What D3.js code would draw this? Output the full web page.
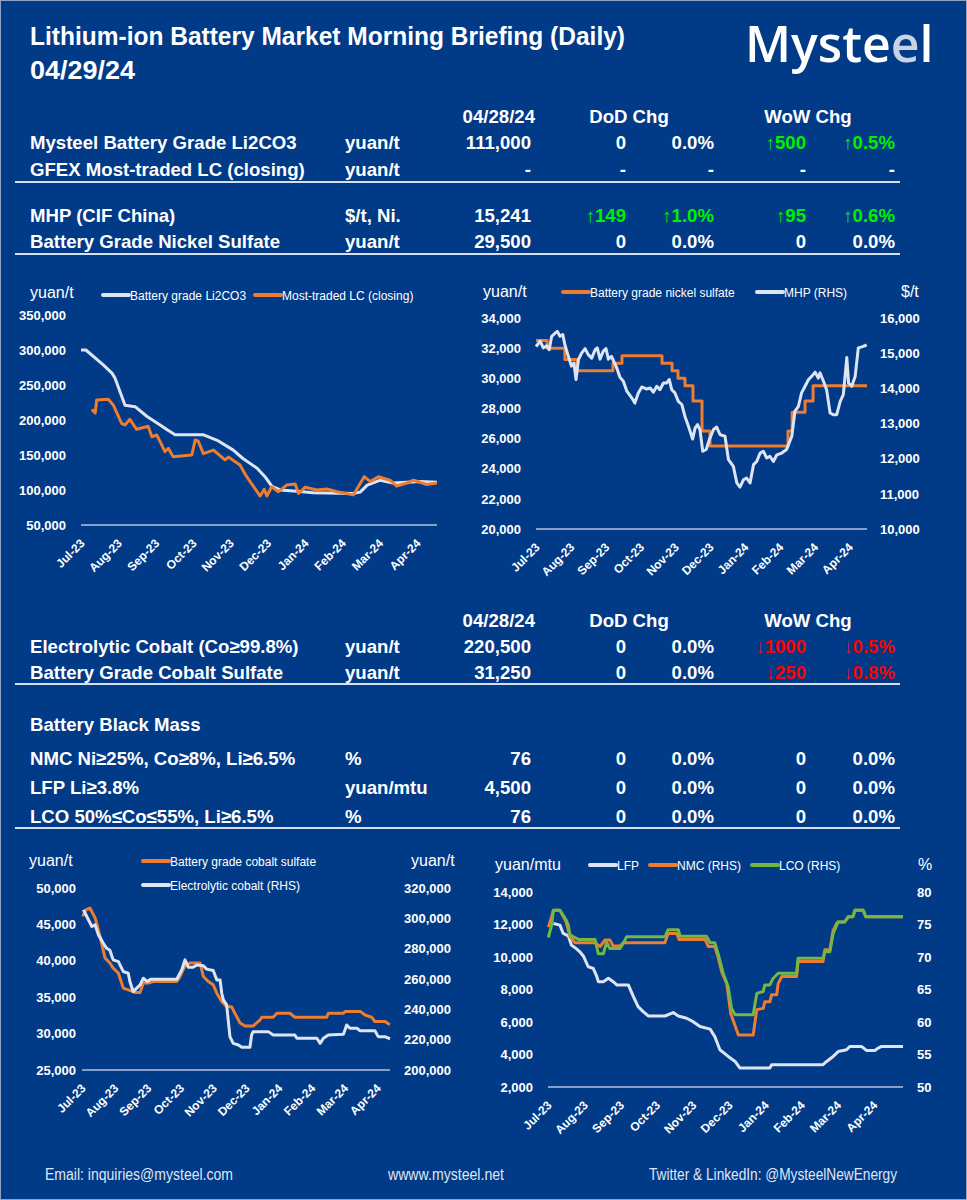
<!DOCTYPE html>
<html><head><meta charset="utf-8">
<script src="https://cdn.jsdelivr.net/npm/d3@7"></script>
<style>
html,body{margin:0;padding:0;background:#013a86;}
svg{display:block;}
</style></head>
<body>
<script>
// ---------------- DATA ----------------
const titleText = "Lithium-ion Battery Market Morning Briefing (Daily)";
const reportDate = "04/29/24";
const priceDate = "04/28/24";
const logoParts = ["Myste", "e", "l"];
const tableHeads = [priceDate, "DoD Chg", "WoW Chg"];
const lithiumRows = [
  ["Mysteel Battery Grade Li2CO3", "yuan/t", "111,000", "0", "0.0%", "↑500", "↑0.5%"],
  ["GFEX Most-traded LC (closing)", "yuan/t", "-", "-", "-", "-", "-"]
];
const nickelRows = [
  ["MHP (CIF China)", "$/t, Ni.", "15,241", "↑149", "↑1.0%", "↑95", "↑0.6%"],
  ["Battery Grade Nickel Sulfate", "yuan/t", "29,500", "0", "0.0%", "0", "0.0%"]
];
const cobaltRows = [
  ["Electrolytic Cobalt (Co≥99.8%)", "yuan/t", "220,500", "0", "0.0%", "↓1000", "↓0.5%"],
  ["Battery Grade Cobalt Sulfate", "yuan/t", "31,250", "0", "0.0%", "↓250", "↓0.8%"]
];
const blackMassTitle = "Battery Black Mass";
const blackMassRows = [
  ["NMC Ni≥25%, Co≥8%, Li≥6.5%", "%", "76", "0", "0.0%", "0", "0.0%"],
  ["LFP Li≥3.8%", "yuan/mtu", "4,500", "0", "0.0%", "0", "0.0%"],
  ["LCO 50%≤Co≤55%, Li≥6.5%", "%", "76", "0", "0.0%", "0", "0.0%"]
];
const footerTexts = ["Email: inquiries@mysteel.com", "wwww.mysteel.net", "Twitter & LinkedIn: @MysteelNewEnergy"];

const monthLabels = ["Jul-23","Aug-23","Sep-23","Oct-23","Nov-23","Dec-23","Jan-24","Feb-24","Mar-24","Apr-24"];

// x = months since Jul-23 on the category axis
const li2co3Spot = [[0,300000],[0.13,300000],[0.59,279000],[0.83,267000],[0.91,260000],[1.18,221000],[1.45,219000],[1.77,205000],[2.12,193000],[2.31,186000],[2.52,179000],[3.27,179000],[3.65,171000],[4.08,157000],[4.34,145000],[4.72,131000],[4.93,119000],[5.12,105000],[5.34,100000],[5.87,98000],[6.22,96000],[7.29,95000],[7.48,97000],[7.67,107000],[8.02,114000],[8.36,110000],[9.09,112000],[9.54,111000]];
const lcFutures = [[0.29,215000],[0.38,210000],[0.42,228600],[0.73,229500],[0.87,221000],[1.09,195000],[1.18,193000],[1.31,201000],[1.49,186700],[1.80,191000],[1.90,176000],[2.03,178600],[2.12,169000],[2.25,154700],[2.34,159600],[2.47,147600],[2.97,150000],[3.06,171400],[3.14,170000],[3.28,152000],[3.55,157000],[3.86,143000],[3.95,147000],[4.26,135700],[4.44,119000],[4.80,91400],[4.91,101000],[4.98,91400],[5.11,104700],[5.29,97600],[5.51,107000],[5.74,108600],[5.83,95000],[6.01,104000],[6.32,100000],[6.59,101400],[6.86,97600],[7.30,93000],[7.43,104700],[7.59,119000],[7.75,112000],[7.97,119000],[8.28,114000],[8.46,105700],[8.73,110000],[8.91,114000],[9.09,111000],[9.25,108000],[9.54,110000]];

const nickelSulfate = [[0,32500],[0.32,32000],[0.83,31250],[1.18,30500],[2.21,31000],[2.47,31500],[3.62,31000],[3.91,30500],[4.08,30000],[4.28,29500],[4.51,28500],[4.77,26500],[5.0,25500],[7.24,26500],[7.36,27750],[7.73,28500],[7.96,29500],[9.51,29500]];
const mhpCif = [[0,15190],[0.12,15340],[0.21,15150],[0.31,15210],[0.38,15100],[0.45,15480],[0.55,15570],[0.61,15620],[0.69,15480],[0.77,15530],[0.83,15240],[0.93,14910],[1.02,14630],[1.09,14720],[1.15,14250],[1.22,14820],[1.31,15000],[1.41,15130],[1.50,14960],[1.60,14860],[1.70,15100],[1.76,15150],[1.84,14830],[1.93,15050],[2.01,15130],[2.08,14830],[2.17,14910],[2.32,14580],[2.41,14320],[2.51,14200],[2.61,13920],[2.75,13730],[2.84,13580],[2.94,13870],[3.04,14040],[3.18,13980],[3.28,14010],[3.37,13890],[3.47,14060],[3.56,13960],[3.66,14150],[3.75,14150],[3.83,14250],[3.90,13960],[3.99,13870],[4.09,13630],[4.19,13540],[4.28,13200],[4.38,12920],[4.50,12560],[4.57,12870],[4.64,12970],[4.71,12830],[4.79,12210],[4.89,12260],[4.98,12540],[5.10,12830],[5.19,12900],[5.29,12680],[5.43,12640],[5.53,11970],[5.67,11780],[5.77,11310],[5.86,11190],[5.96,11400],[6.05,11450],[6.15,11310],[6.25,11830],[6.34,11920],[6.44,12160],[6.53,12210],[6.63,12020],[6.72,12070],[6.82,11920],[6.92,12110],[7.06,12160],[7.20,12260],[7.35,12640],[7.44,13350],[7.54,13490],[7.63,13870],[7.73,14060],[7.83,14250],[7.92,14340],[8.02,14460],[8.11,14290],[8.16,14440],[8.26,14200],[8.35,13960],[8.45,13300],[8.54,13250],[8.64,13250],[8.74,13630],[8.83,13820],[8.93,14880],[8.98,14150],[9.07,14060],[9.17,14340],[9.26,15150],[9.36,15180],[9.45,15210],[9.50,15241]];

const cobaltSulfate = [[0.02,46100],[0.12,47000],[0.24,47250],[0.40,45900],[0.55,43350],[0.70,40400],[0.85,39700],[0.95,39000],[1.11,38300],[1.26,36250],[1.41,36000],[1.62,35650],[1.77,35650],[1.87,36950],[2.02,36950],[2.17,37150],[2.89,37150],[2.99,37850],[3.14,39300],[3.29,39700],[3.60,39700],[3.70,37850],[3.85,37150],[4.00,36700],[4.11,35550],[4.26,34400],[4.41,33700],[4.56,33700],[4.66,32800],[4.82,31450],[4.97,31050],[5.22,31050],[5.43,31900],[5.48,32250],[5.83,32250],[5.94,32800],[6.34,32800],[6.49,32250],[7.46,32250],[7.51,32800],[7.97,32800],[8.02,33050],[8.48,33050],[8.63,32550],[8.83,32250],[8.93,31650],[9.24,31650],[9.34,31350],[9.39,31250]];
const electrolyticCobalt = [[0.04,305600],[0.08,304000],[0.30,294600],[0.40,295700],[0.50,289100],[0.65,283600],[0.75,280300],[0.85,279000],[0.95,272600],[1.11,271500],[1.26,264900],[1.41,263800],[1.46,258300],[1.56,251700],[1.77,256100],[1.87,260500],[1.99,258300],[2.09,259800],[2.89,259800],[3.04,266000],[3.14,272600],[3.24,267800],[3.39,267800],[3.50,269300],[3.70,268800],[3.80,266500],[4.00,265600],[4.11,259400],[4.21,259400],[4.26,250600],[4.31,246200],[4.41,242900],[4.51,222000],[4.61,217600],[4.77,216500],[4.87,215000],[5.12,215000],[5.17,223100],[5.22,225300],[5.68,225300],[5.83,223100],[6.49,223100],[6.55,220900],[7.16,220900],[7.26,217600],[7.36,220900],[7.51,223100],[7.97,223500],[8.07,229700],[8.17,227500],[8.38,227500],[8.48,225900],[8.93,225900],[9.03,222000],[9.24,222000],[9.39,220500]];

const lfpBlackMass = [[0.15,12060],[0.33,11960],[0.42,11450],[0.56,11300],[0.65,10730],[0.79,10500],[0.88,10320],[0.98,10050],[1.11,9400],[1.25,9300],[1.35,8790],[1.39,8480],[1.53,8480],[1.67,8690],[1.80,8480],[1.90,8280],[2.22,8280],[2.36,7560],[2.49,6950],[2.63,6640],[2.77,6370],[3.23,6370],[3.46,6580],[3.60,6370],[3.83,6230],[4.01,6020],[4.20,5720],[4.48,5560],[4.61,5100],[4.75,4290],[4.98,3880],[5.17,3570],[5.30,3170],[6.13,3170],[6.18,3370],[7.60,3370],[7.70,3570],[7.88,3880],[8.02,4180],[8.25,4290],[8.34,4490],[8.67,4490],[8.80,4250],[9.03,4250],[9.12,4390],[9.22,4500],[9.81,4500]];
const nmcBlackMass = [[0.01,74.6],[0.10,76.2],[0.15,77.2],[0.33,77.2],[0.50,75.4],[0.61,73.1],[0.75,72.2],[1.30,72.2],[1.44,71.6],[1.57,72.6],[1.71,72.6],[1.80,71.7],[1.99,71.7],[2.08,72.2],[3.23,72.2],[3.32,73.6],[3.56,73.6],[3.62,72.7],[4.34,72.7],[4.43,71.6],[4.61,71.6],[4.70,70.0],[4.80,67.7],[4.94,65.9],[5.05,61.3],[5.26,58.0],[5.67,58.0],[5.77,61.9],[5.95,62.1],[5.99,63.1],[6.13,63.1],[6.18,64.2],[6.32,64.2],[6.36,65.9],[6.46,67.0],[6.87,67.0],[6.91,69.3],[7.60,69.3],[7.65,71.1],[7.79,71.1],[7.88,74.1],[7.98,75.2],[8.02,75.4],[8.20,75.4],[8.30,76.2],[8.43,76.2],[8.48,77.2],[8.71,77.2],[8.78,76.2],[9.81,76.2]];
const lcoBlackMass = [[0.01,73.0],[0.10,74.9],[0.15,77.2],[0.33,77.2],[0.42,76.4],[0.50,75.7],[0.56,74.9],[0.61,73.4],[0.70,73.1],[0.84,72.7],[1.30,72.7],[1.39,70.5],[1.53,70.5],[1.62,72.3],[1.71,71.3],[1.99,71.3],[2.08,72.1],[2.17,73.1],[3.23,73.1],[3.32,74.2],[3.60,74.2],[3.65,73.2],[4.38,73.2],[4.48,72.2],[4.61,72.2],[4.70,70.5],[4.84,67.5],[4.98,65.4],[5.07,62.1],[5.17,61.1],[5.67,61.1],[5.77,64.4],[5.95,64.7],[5.99,65.7],[6.13,65.7],[6.22,66.7],[6.36,67.5],[6.87,67.5],[6.91,69.8],[7.60,69.8],[7.65,70.8],[7.79,70.8],[7.88,73.6],[7.98,74.9],[8.02,75.4],[8.20,75.4],[8.30,76.2],[8.43,76.2],[8.48,77.2],[8.71,77.2],[8.78,76.2],[9.81,76.2]];

// ---------------- DRAW ----------------
const W = 967, H = 1200;
const BG = "#013a86", WHITE_LINE = "#dde4f4", ORANGE = "#ee7d2f", GREEN = "#72b843";
const UP = "#00f000", DOWN = "#ff0000";
const F = "'Liberation Sans', Arial, sans-serif";

const svg = d3.select("body").append("svg").attr("width", W).attr("height", H);
svg.append("rect").attr("width", W).attr("height", H).attr("fill", BG);
svg.append("rect").attr("x", 0.5).attr("y", 0.5).attr("width", W - 1).attr("height", H - 1)
  .attr("fill", "none").attr("stroke", "#8ea2c8").attr("stroke-width", 1);

// Title (condensed via textLength)
svg.append("text").attr("x", 30).attr("y", 45).attr("fill", "#fff")
  .attr("textLength", 595).attr("lengthAdjust", "spacingAndGlyphs")
  .style("font-family", F).style("font-weight", "bold").style("font-size", "26px").text(titleText);
svg.append("text").attr("x", 30).attr("y", 79).attr("fill", "#fff")
  .attr("textLength", 105).attr("lengthAdjust", "spacingAndGlyphs")
  .style("font-family", F).style("font-weight", "bold").style("font-size", "26px").text(reportDate);

// Logo: separate text pieces laid side by side
let lx = 745;
logoParts.forEach((p, i) => {
  const t = svg.append("text").attr("x", lx).attr("y", 62)
    .attr("fill", i === 1 ? "#c9d3e6" : "#fff")
    .style("font-family", "'Open Sans', Lato, sans-serif").style("font-weight", "600")
    .style("font-size", "50px").text(p);
  lx += t.node().getComputedTextLength();
});

// Tables
const colRight = [531, 626, 714, 806, 895];
function cellColor(s) { return s.startsWith("↑") ? UP : (s.startsWith("↓") ? DOWN : "#fff"); }
function tableText(x, y, s, anchor, color) {
  return svg.append("text").attr("x", x).attr("y", y).attr("text-anchor", anchor || "start")
    .attr("fill", color || "#fff").style("font-family", F).style("font-weight", "bold")
    .style("font-size", "18.6px").text(s);
}
function header(y) {
  tableText(535, y, tableHeads[0], "end");
  tableText(629, y, tableHeads[1], "middle");
  tableText(808, y, tableHeads[2], "middle");
}
function rows(data, y0, step) {
  data.forEach((r, i) => {
    const y = y0 + i * step;
    tableText(30, y, r[0]);
    tableText(345, y, r[1]);
    r.slice(2).forEach((c, j) => tableText(colRight[j], y, c, "end", cellColor(c)));
  });
}
function rule(y) {
  svg.append("line").attr("x1", 15).attr("x2", 900).attr("y1", y).attr("y2", y)
    .attr("stroke", "#d7dff0").attr("stroke-width", 2);
}
header(123);
rows(lithiumRows, 149, 27);
rule(182);
rows(nickelRows, 222, 26);
rule(254);

header(627);
rows(cobaltRows, 653, 26);
rule(684);
tableText(30, 731, blackMassTitle);
rows(blackMassRows, 765, 29);
rule(828);

// Footer
const footerPos = [[45, 188], [388, 116], [649, 248]];
footerPos.forEach((p, i) => {
  svg.append("text").attr("x", p[0]).attr("y", 1180)
    .attr("textLength", p[1]).attr("lengthAdjust", "spacingAndGlyphs")
    .attr("fill", "#dfe6f5").style("font-family", F).style("font-size", "16px").text(footerTexts[i]);
});

// Chart builder
const fmt = d3.format(",");
function chart(c) {
  const g = svg.append("g");
  const x = d3.scaleLinear().domain([0, c.tEnd]).range([c.x0, c.x1]);
  const yL = d3.scaleLinear().domain(c.yL).range([c.yB, c.yT]);
  const yR = c.yR ? d3.scaleLinear().domain(c.yR).range([c.yB, c.yT]) : null;

  g.append("line").attr("x1", c.x0).attr("x2", c.x1).attr("y1", c.yB).attr("y2", c.yB)
    .attr("stroke", "#b3c2e2").attr("stroke-width", 1.3);

  const styleAxis = sel => {
    sel.select(".domain").remove();
    sel.selectAll("text").attr("fill", "#fff").style("font-family", F)
      .style("font-weight", "bold").style("font-size", "13px");
  };
  g.append("g").attr("transform", `translate(${c.x0},0)`)
    .call(d3.axisLeft(yL).tickValues(c.ticksL).tickFormat(fmt).tickSize(0).tickPadding(c.padL))
    .call(styleAxis);
  if (yR) {
    g.append("g").attr("transform", `translate(${c.x1},0)`)
      .call(d3.axisRight(yR).tickValues(c.ticksR).tickFormat(fmt).tickSize(0).tickPadding(c.padR))
      .call(styleAxis);
  }
  const xa = g.append("g").attr("transform", `translate(0,${c.yB})`)
    .call(d3.axisBottom(x).tickValues(d3.range(monthLabels.length)).tickFormat(i => monthLabels[i]).tickSize(0));
  xa.select(".domain").remove();
  xa.selectAll("text").attr("x", 0).attr("y", 0).attr("dy", 0)
    .attr("text-anchor", "end").attr("transform", "translate(4,19) rotate(-45)")
    .attr("fill", "#fff").style("font-family", F).style("font-weight", "bold").style("font-size", "12px");

  // units
  c.units.forEach(u => g.append("text").attr("x", u[0]).attr("y", u[1])
    .attr("fill", "#fff").style("font-family", F).style("font-size", "16px").text(u[2]));

  // series
  c.series.forEach(s => {
    const ys = s.axis === "R" ? yR : yL;
    const line = d3.line().x(d => x(d[0])).y(d => ys(d[1]))
      .curve(s.step ? d3.curveStepAfter : d3.curveLinear);
    g.append("path").datum(s.data).attr("d", line).attr("fill", "none")
      .attr("stroke", s.color).attr("stroke-width", 3).attr("stroke-linejoin", "round");
  });
  // legend
  c.legend.forEach(l => {
    g.append("line").attr("x1", l.x).attr("x2", l.x + 26).attr("y1", l.y).attr("y2", l.y)
      .attr("stroke", l.color).attr("stroke-width", 4).attr("stroke-linecap", "round");
    g.append("text").attr("x", l.x + 27).attr("y", l.y + 4.5).attr("fill", "#fff")
      .style("font-family", F).style("font-size", "12px").text(l.label);
  });
}

chart({
  x0: 81, x1: 437, tEnd: 9.54, yB: 525, yT: 315,
  yL: [50000, 350000], ticksL: d3.range(50000, 350001, 50000), padL: 15,
  units: [[30, 298, "yuan/t"]],
  series: [
    {data: li2co3Spot, color: WHITE_LINE},
    {data: lcFutures, color: ORANGE}
  ],
  legend: [
    {x: 103, y: 295, color: WHITE_LINE, label: "Battery grade Li2CO3"},
    {x: 255, y: 295, color: ORANGE, label: "Most-traded LC (closing)"}
  ]
});

chart({
  x0: 536, x1: 867, tEnd: 9.51, yB: 529, yT: 318,
  yL: [20000, 34000], ticksL: d3.range(20000, 34001, 2000), padL: 15,
  yR: [10000, 16000], ticksR: d3.range(10000, 16001, 1000), padR: 13,
  units: [[483, 297, "yuan/t"], [901, 297, "$/t"]],
  series: [
    {data: nickelSulfate, color: ORANGE, step: true},
    {data: mhpCif, color: WHITE_LINE, axis: "R"}
  ],
  legend: [
    {x: 563, y: 292, color: ORANGE, label: "Battery grade nickel sulfate"},
    {x: 757, y: 292, color: WHITE_LINE, label: "MHP (RHS)"}
  ]
});

chart({
  x0: 82, x1: 390, tEnd: 9.39, yB: 1070, yT: 888,
  yL: [25000, 50000], ticksL: d3.range(25000, 50001, 5000), padL: 6,
  yR: [200000, 320000], ticksR: d3.range(200000, 320001, 20000), padR: 14,
  units: [[29, 866, "yuan/t"], [411, 866, "yuan/t"]],
  series: [
    {data: cobaltSulfate, color: ORANGE},
    {data: electrolyticCobalt, color: WHITE_LINE, axis: "R"}
  ],
  legend: [
    {x: 143, y: 861, color: ORANGE, label: "Battery grade cobalt sulfate"},
    {x: 143, y: 885, color: WHITE_LINE, label: "Electrolytic cobalt (RHS)"}
  ]
});

chart({
  x0: 548, x1: 903, tEnd: 9.81, yB: 1087, yT: 892,
  yL: [2000, 14000], ticksL: d3.range(2000, 14001, 2000), padL: 15,
  yR: [50, 80], ticksR: d3.range(50, 81, 5), padR: 14,
  units: [[495, 870, "yuan/mtu"], [918, 870, "%"]],
  series: [
    {data: lfpBlackMass, color: WHITE_LINE},
    {data: nmcBlackMass, color: ORANGE, axis: "R"},
    {data: lcoBlackMass, color: GREEN, axis: "R"}
  ],
  legend: [
    {x: 590, y: 865, color: WHITE_LINE, label: "LFP"},
    {x: 650, y: 865, color: ORANGE, label: "NMC (RHS)"},
    {x: 752, y: 865, color: GREEN, label: "LCO (RHS)"}
  ]
});
</script>
</body></html>
